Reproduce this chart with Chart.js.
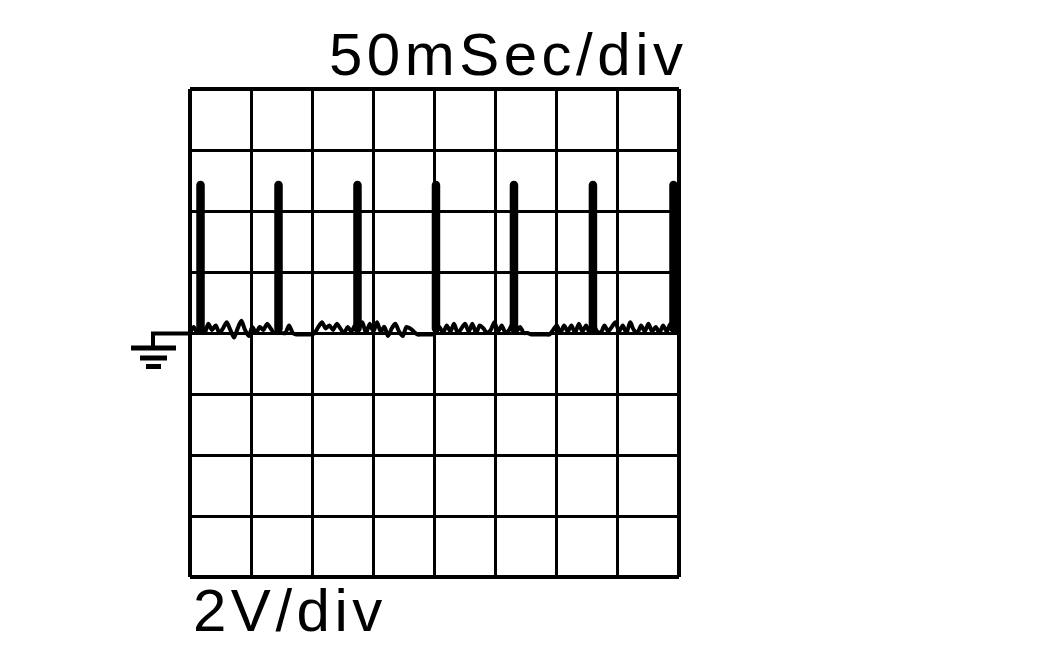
<!DOCTYPE html>
<html>
<head>
<meta charset="utf-8">
<title>50mSec/div</title>
<script src="https://cdn.jsdelivr.net/npm/chart.js@4"></script>
<style>
  html, body { margin: 0; padding: 0; background: #fff; }
  #wrap { width: 1052px; height: 650px; }
</style>
</head>
<body>
<div id="wrap"><canvas id="scope" width="1052" height="650"></canvas></div>
<script>
// time in ms, level in volts (8 divisions each way)
const noiseTimes = [0, 3, 6, 9, 12, 15, 18, 21, 24, 27, 30, 33, 36, 39, 42, 45, 48, 51, 54, 57, 60, 63, 66, 69, 72, 75, 78, 81, 84, 87, 90, 93, 96, 99, 102, 105, 108, 111, 114, 117, 120, 123, 126, 129, 132, 135, 138, 141, 144, 147, 150, 153, 156, 159, 162, 165, 168, 171, 174, 177, 180, 183, 186, 189, 192, 195, 198, 201, 204, 207, 210, 213, 216, 219, 222, 225, 228, 231, 234, 237, 240, 243, 246, 249, 252, 255, 258, 261, 264, 267, 270, 273, 276, 279, 282, 285, 288, 291, 294, 297, 300, 303, 306, 309, 312, 315, 318, 321, 324, 327, 330, 333, 336, 339, 342, 345, 348, 351, 354, 357, 360, 363, 366, 369, 372, 375, 378, 381, 384, 387, 390, 393, 396, 400];
const noiseVolts = [0, 0.2, 0, 0.3, 0, 0.3, 0.1, 0.25, 0, 0.15, 0.35, 0.1, -0.15, 0.15, 0.4, 0.1, -0.1, 0.2, 0, 0.2, 0.1, 0.3, 0.15, 0, 0.1, 0, 0, 0.25, 0, -0.05, -0.05, -0.05, -0.05, -0.05, 0, 0.2, 0.35, 0.15, 0.25, 0.1, 0.3, 0.15, 0, 0.2, 0.05, 0.25, 0.15, 0.35, 0, 0.3, 0.05, 0.35, 0.05, 0.2, -0.1, 0.15, 0.3, 0.05, -0.1, 0.2, 0.15, 0.05, -0.05, -0.05, -0.05, -0.05, -0.05, 0, 0.2, 0, 0.25, 0.05, 0.3, 0, 0.15, 0.3, 0.05, 0.3, 0, 0.25, 0.15, 0, 0.1, 0.35, 0.05, 0.25, 0, 0.1, 0.3, 0.05, 0.2, 0, 0, -0.05, -0.05, -0.05, -0.05, -0.05, -0.05, 0.1, 0.25, 0, 0.25, 0.05, 0.25, 0, 0.3, 0.05, 0.25, 0, 0.25, 0.05, 0, 0.25, 0.05, 0.2, 0.35, 0.05, 0.25, 0, 0.35, 0.1, 0, 0.25, 0.05, 0.3, 0.05, 0.2, 0, 0.25, 0.05, 0.3, 0, 0.1];
const spikeTimes = [8.6, 72.4, 137, 201.2, 265, 329.6, 395.5];
const spikeTop = [4.85, 4.85, 4.85, 4.85, 4.85, 4.85, 4.85];
const timeTitle = "50mSec/div";
const voltTitle = "2V/div";

const tracePoints = noiseTimes.map((t, i) => ({ x: t, y: noiseVolts[i] }));
const spikePoints = [];
spikeTimes.forEach((t, i) => {
  spikePoints.push({ x: t, y: 0.15 }, { x: t, y: spikeTop[i] }, { x: t, y: null });
});

const scopeDecor = {
  id: "scopeDecor",
  afterDraw(chart) {
    const { ctx, chartArea, scales } = chart;
    const zero = scales.y.getPixelForValue(0);
    ctx.save();
    ctx.strokeStyle = "#000";
    ctx.lineWidth = 4;
    ctx.beginPath();
    ctx.moveTo(chartArea.left, zero + 0.5);
    ctx.lineTo(chartArea.left - 37, zero + 0.5);
    ctx.lineTo(chartArea.left - 37, zero + 14);
    ctx.stroke();
    ctx.lineWidth = 5;
    [[59, 14, 15], [50, 23, 25], [44, 29, 33.5]].forEach(([from, to, dy]) => {
      ctx.beginPath();
      ctx.moveTo(chartArea.left - from, zero + dy);
      ctx.lineTo(chartArea.left - to, zero + dy);
      ctx.stroke();
    });
    ctx.fillStyle = "#000";
    ctx.textBaseline = "alphabetic";
    ctx.font = "60px 'Liberation Sans'";
    ctx.letterSpacing = "4.5px";
    ctx.fillText(timeTitle, 329, 75);
    ctx.fillText(voltTitle, 193, 631);
    ctx.restore();
  }
};

// outer frame is drawn heavier than the inner divisions
const gridWidth = (c) => (c.index === 0 || c.index === 8 ? 4 : 3);

new Chart(document.getElementById("scope"), {
  type: "line",
  data: {
    datasets: [
      { data: tracePoints, borderColor: "#000", borderWidth: 4, pointRadius: 0, tension: 0.25, clip: false },
      { data: spikePoints, borderColor: "#000", borderWidth: 8.5, borderCapStyle: "round", pointRadius: 0, tension: 0, spanGaps: false, clip: false }
    ]
  },
  options: {
    responsive: false,
    animation: false,
    layout: { padding: { left: 190, right: 373, top: 89, bottom: 73 } },
    plugins: { legend: { display: false }, tooltip: { enabled: false } },
    scales: {
      x: {
        type: "linear",
        min: 0,
        max: 400,
        ticks: { display: false, stepSize: 50 },
        grid: { color: "#000", lineWidth: gridWidth, drawTicks: false },
        border: { display: false }
      },
      y: {
        min: -8,
        max: 8,
        ticks: { display: false, stepSize: 2 },
        grid: { color: "#000", lineWidth: gridWidth, drawTicks: false },
        border: { display: false }
      }
    }
  },
  plugins: [scopeDecor]
});
</script>
</body>
</html>
